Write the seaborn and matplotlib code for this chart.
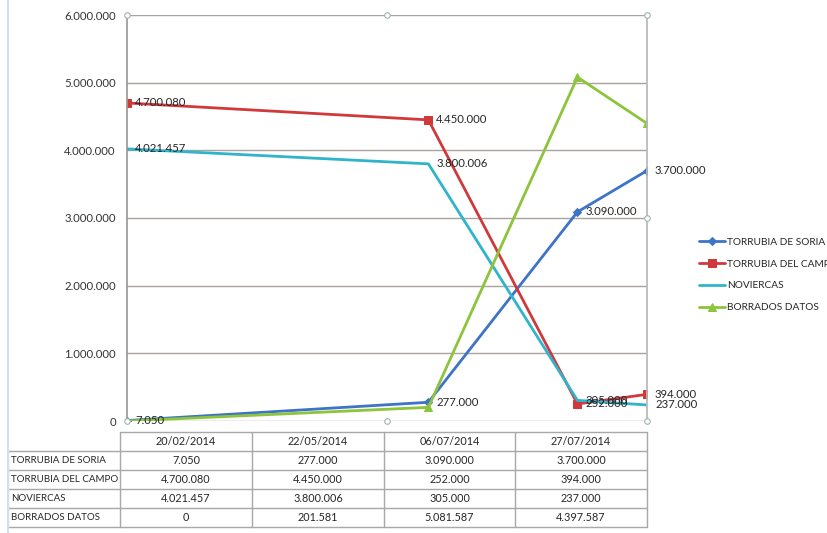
import numpy as np
import pandas as pd
import matplotlib
matplotlib.use("Agg")
import matplotlib.pyplot as plt
from matplotlib.lines import Line2D
from matplotlib.ticker import FuncFormatter, MultipleLocator
import seaborn as sns

fechas = ["20/02/2014", "22/05/2014", "06/07/2014", "27/07/2014"]
series = ["TORRUBIA DE SORIA", "TORRUBIA DEL CAMPO", "NOVIERCAS", "BORRADOS DATOS"]
torrubia_soria = [7050, 277000, 3090000, 3700000]
torrubia_campo = [4700080, 4450000, 252000, 394000]
noviercas = [4021457, 3800006, 305000, 237000]
borrados = [0, 201581, 5081587, 4397587]
valores = [torrubia_soria, torrubia_campo, noviercas, borrados]
con_etiquetas = [True, True, True, False]

colores = ["#3D74C6", "#D0393B", "#2FB4CB", "#8CC43C"]
marcadores = ["D", "s", None, "^"]
tam_marcador = [4, 6, 0, 6]

sns.set_theme(style="white")
plt.rcParams["font.family"] = ["Lato", "DejaVu Sans"]

def miles(v):
    return f"{v:,.0f}".replace(",", ".")

dias = pd.to_datetime(fechas, format="%d/%m/%Y")
df = pd.DataFrame({
    "fecha": np.tile(dias, len(series)),
    "valor": np.concatenate(valores),
    "serie": np.repeat(series, len(fechas)),
})

W, H = 828, 533
fig = plt.figure(figsize=(W / 100, H / 100), dpi=100)
x0, x1, ytop, ybot = 127, 647, 15, 421
ax = fig.add_axes([x0 / W, 1 - ybot / H, (x1 - x0) / W, (ybot - ytop) / H])

for nombre, c, m, ms, lab in zip(series, colores, marcadores, tam_marcador, con_etiquetas):
    d = df[df["serie"] == nombre]
    sns.lineplot(data=d, x="fecha", y="valor", color=c, marker=m, markersize=ms,
                 markeredgecolor=c, linewidth=2, ax=ax, label=nombre)
    if lab:
        for xv, yv in zip(d["fecha"], d["valor"]):
            ax.annotate(miles(yv), (xv, yv), xytext=(8, 0), textcoords="offset pixels",
                        ha="left", va="center", fontsize=8.2, color="#262626",
                        annotation_clip=False)

ax.set_xlim(dias[0], dias[-1])
ax.set_ylim(0, 6000000)
ax.yaxis.set_major_locator(MultipleLocator(1000000))
ax.yaxis.set_major_formatter(FuncFormatter(lambda v, p: miles(v)))
ax.tick_params(axis="y", labelsize=8.2, labelcolor="#333333", length=0, pad=8)
ax.set_xticks([])
ax.set_xlabel("")
ax.set_ylabel("")
ax.grid(axis="y", color="#A8A39E", linewidth=1)
for s in ["top", "bottom"]:
    ax.spines[s].set_visible(False)
ax.spines["left"].set_color("#9C9894")
ax.spines["right"].set_color("#B8B8B8")

# selection handles of the plot area
hx = [0, 0.5, 1, 1, 1, 0.5, 0]
hy = [1, 1, 1, 0.5, 0, 0, 0]
ax.plot(hx, hy, "o", transform=ax.transAxes, clip_on=False, markersize=4,
        markerfacecolor="white", markeredgecolor="#9FB3B3", markeredgewidth=0.8,
        linestyle="none", zorder=5)

# legend
handles, labels = ax.get_legend_handles_labels()
ax.legend_.remove()
fig.legend(handles, labels, loc="center left", bbox_to_anchor=(695 / W, 1 - 275 / H),
           frameon=False, fontsize=7.3, handlelength=2.6, labelspacing=1.25,
           handletextpad=0.2, borderaxespad=0)

# data table below the chart
tx = [8, 120, 252, 384, 515, 647]
ty = [432, 451, 470, 489, 508, 527]
gris = "#A8A8A8"

def fx(px):
    return px / W

def fy(py):
    return 1 - py / H

fig.add_artist(Line2D([fx(tx[1]), fx(tx[-1])], [fy(ty[0])] * 2, color=gris, lw=1))
for yy in ty[1:]:
    fig.add_artist(Line2D([fx(tx[0]), fx(tx[-1])], [fy(yy)] * 2, color=gris, lw=1))
for xx in tx[1:]:
    fig.add_artist(Line2D([fx(xx)] * 2, [fy(ty[0]), fy(ty[-1])], color=gris, lw=1))
fig.add_artist(Line2D([fx(tx[0])] * 2, [fy(ty[1]), fy(ty[-1])], color="#D8D8D8", lw=1))

for j, f in enumerate(fechas):
    fig.text(fx((tx[j + 1] + tx[j + 2]) / 2), fy((ty[0] + ty[1]) / 2), f,
             ha="center", va="center", fontsize=7.8, color="#262626")
for i, (nombre, vals) in enumerate(zip(series, valores)):
    yc = fy((ty[i + 1] + ty[i + 2]) / 2)
    fig.text(fx(tx[0] + 3), yc, nombre, ha="left", va="center", fontsize=7, color="#262626")
    for j, v in enumerate(vals):
        fig.text(fx((tx[j + 1] + tx[j + 2]) / 2), yc, miles(v),
                 ha="center", va="center", fontsize=7.8, color="#262626")

# outer chart border on the left
fig.add_artist(Line2D([fx(8)] * 2, [0, 1], color="#CFE3EC", lw=1.5))

fig.savefig("out.png", dpi=100, facecolor="white")
